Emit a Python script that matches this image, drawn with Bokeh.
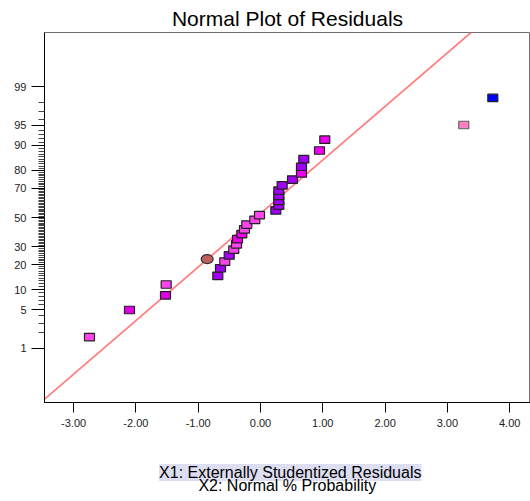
from statistics import NormalDist

from bokeh.embed import file_html
from bokeh.layouts import column
from bokeh.models import (ColumnDataSource, CustomJSTickFormatter, FixedTicker,
                          Label, LinearAxis, NumeralTickFormatter, Range1d, Slope)
from bokeh.plotting import figure
from bokeh.resources import INLINE

# Externally studentized residuals, ordered, with their normal % probability
residuals = [-2.745, -2.103, -1.525, -1.514, -0.685, -0.642, -0.573, -0.502,
             -0.429, -0.385, -0.369, -0.300, -0.257, -0.220, -0.091, -0.016,
             0.246, 0.294, 0.294, 0.294, 0.294, 0.348, 0.514, 0.658, 0.658,
             0.695, 0.947, 1.032, 3.263, 3.729]
normal_pct = [1.67, 5.00, 8.33, 11.67, 15.00, 18.33, 21.67, 25.00, 28.33,
              31.67, 35.00, 38.33, 41.67, 45.00, 48.33, 51.67, 55.00, 58.33,
              61.67, 65.00, 68.33, 71.67, 75.00, 78.33, 81.67, 85.00, 88.33,
              91.67, 95.00, 98.33]
point_colors = ["#FF44EE", "#E400E4", "#E400E4", "#FF44EE", "#A000F4",
                "#A000F4", "#FF44EE", "#A000F4", "#FF44EE", "#FF44EE",
                "#EE00EE", "#EE00EE", "#FF44EE", "#FF44EE", "#FF44EE",
                "#FF44EE", "#A000F4", "#A000F4", "#A000F4", "#A000F4",
                "#A000F4", "#A000F4", "#A000F4", "#EE00EE", "#A000F4",
                "#A000F4", "#EE00EE", "#EE00EE", "#FF80C0", "#0000FF"]
edge_colors = ["#222222"] * 28 + ["#606060", "#222222"]

# Separately marked run
marked_residual = [-0.856]
marked_pct = [22.96]

# Reference line in (residual, probit) space
fit_intercept = 0.071
fit_slope = 0.9525

# Axis ticks
x_ticks = [-3, -2, -1, 0, 1, 2, 3, 4]
y_tick_pct = [1, 5, 10, 20, 30, 50, 70, 80, 90, 95, 99]
y_tick_labels = ["1", "5", "10", "20", "30", "50", "70", "80", "90", "95", "99"]
y_fine_pct = list(range(1, 100))

nd = NormalDist()


def probit(pct):
    return nd.inv_cdf(pct / 100.0)


src = ColumnDataSource(dict(
    x=residuals,
    y=[probit(v) for v in normal_pct],
    fill=point_colors,
    edge=edge_colors,
))
marked = ColumnDataSource(dict(x=marked_residual, y=[probit(v) for v in marked_pct]))

p = figure(width=530, height=440, output_backend="svg", toolbar_location=None,
           x_range=Range1d(-3.467, 4.334), y_range=Range1d(-3.29, 3.29),
           min_border_left=44, min_border_right=0, min_border_top=32,
           min_border_bottom=38, title="Normal Plot of Residuals")

p.background_fill_color = "white"
p.border_fill_color = "white"
p.xgrid.visible = False
p.ygrid.visible = False
p.outline_line_color = "#707070"
p.outline_line_width = 1

p.title.text_font = "Liberation Sans"
p.title.text_font_size = "21px"
p.title.text_font_style = "normal"
p.title.text_color = "#000000"
p.title.align = "center"
p.title.standoff = 5

# x axis
xa = p.xaxis[0]
xa.ticker = FixedTicker(ticks=x_ticks, minor_ticks=[])
xa.formatter = NumeralTickFormatter(format="0.00")
xa.axis_line_color = "#000000"
xa.major_tick_line_color = "#000000"
xa.major_tick_out = 10
xa.major_tick_in = 0
xa.minor_tick_out = 0
xa.minor_tick_in = 0
xa.major_label_standoff = 6
xa.major_label_text_font = "Liberation Sans"
xa.major_label_text_font_size = "11px"
xa.major_label_text_color = "#222222"

# y axis on a normal-probability (probit) scale:
# inner axis carries the fine 1 % comb, outer axis the labelled ticks
inner = p.yaxis[0]
inner.ticker = FixedTicker(ticks=[probit(v) for v in y_fine_pct], minor_ticks=[])
inner.formatter = CustomJSTickFormatter(code="return '';")
inner.axis_line_color = "#000000"
inner.major_tick_line_color = "#444444"
inner.major_tick_line_width = 1
inner.major_tick_out = 6
inner.major_tick_in = 0
inner.minor_tick_out = 0
inner.minor_tick_in = 0
inner.major_label_standoff = 0
inner.major_label_text_font_size = "0px"

outer = LinearAxis(
    ticker=FixedTicker(ticks=[probit(v) for v in y_tick_pct], minor_ticks=[]),
    formatter=CustomJSTickFormatter(
        args=dict(zs=[probit(v) for v in y_tick_pct], labels=y_tick_labels),
        code="""
            let best = 0;
            for (let i = 0; i < zs.length; i++) {
                if (Math.abs(zs[i] - tick) < Math.abs(zs[best] - tick)) best = i;
            }
            return labels[best];
        """),
    axis_line_color=None,
    major_tick_line_color="#000000",
    major_tick_out=7, major_tick_in=6,
    minor_tick_out=0, minor_tick_in=0,
    major_label_standoff=5,
    major_label_text_font="Liberation Sans",
    major_label_text_font_size="11px",
    major_label_text_color="#222222",
)
p.add_layout(outer, "left")

# reference line
p.add_layout(Slope(gradient=fit_slope, y_intercept=fit_intercept,
                   line_color="#FF8080", line_width=1.8, level="underlay"))

# residual points
p.rect(x="x", y="y", width=10, height=7.5, width_units="screen",
       height_units="screen", fill_color="fill", line_color="edge",
       line_width=1.2, source=src)
p.ellipse(x="x", y="y", width=12, height=9, width_units="screen",
          height_units="screen", fill_color="#C0605C", line_color="#333333",
          line_width=1.2, source=marked)

# strip underneath holding the two axis captions
cap = figure(width=530, height=61, output_backend="svg", toolbar_location=None,
             x_range=Range1d(0, 530), y_range=Range1d(61, 0), min_border=0,
             x_axis_location=None, y_axis_location=None)
cap.grid.visible = False
cap.outline_line_color = None
cap.background_fill_color = "white"
cap.border_fill_color = "white"
cap.add_layout(Label(x=268, y=32, text="X1: Externally Studentized Residuals",
                     text_align="center", text_baseline="alphabetic",
                     text_font="Liberation Sans", text_font_size="16px",
                     text_color="#000000", background_fill_color="#DEDEF2"))
cap.add_layout(Label(x=264.8, y=45, text="X2: Normal % Probability",
                     text_align="center", text_baseline="alphabetic",
                     text_font="Liberation Sans", text_font_size="16px",
                     text_color="#000000"))

layout = column(p, cap, spacing=0)
open("out.html", "w").write(file_html(layout, INLINE))
